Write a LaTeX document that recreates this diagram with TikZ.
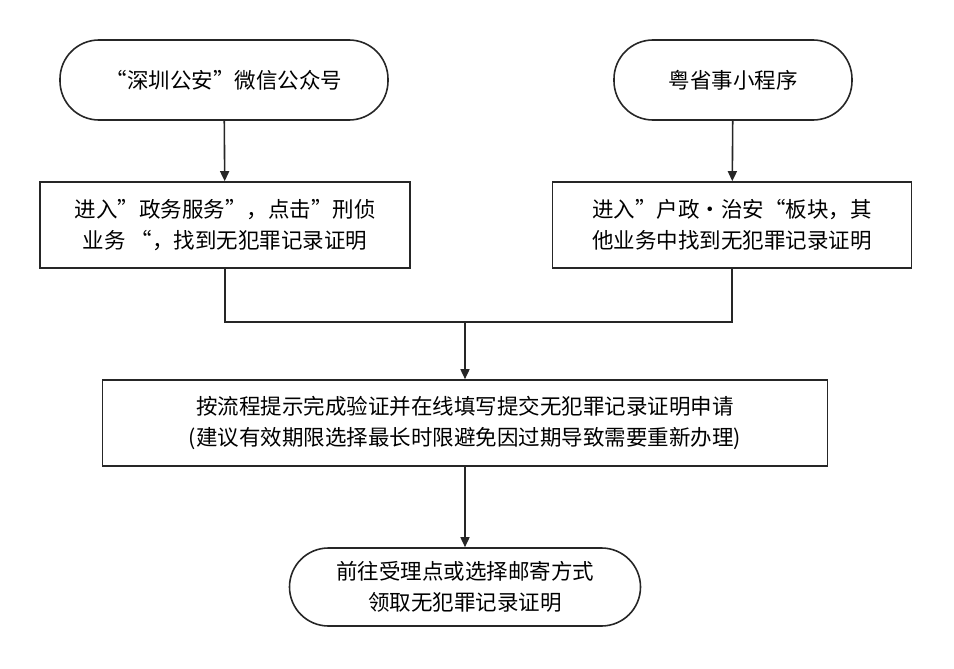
\documentclass[tikz,border=0pt]{standalone}
\usepackage{fontspec}
\setmainfont{Noto Sans CJK SC}
\usetikzlibrary{arrows.meta}
\begin{document}
\begin{tikzpicture}[x=1pt,y=-1pt,
 box/.style={draw=black!85,line width=1.6pt,minimum height=86pt,align=center,font=\fontsize{21.5}{31}\selectfont,inner sep=0pt},
 term/.style={box,rounded corners=39pt,minimum height=80pt},
 arr/.style={draw=black!85,line width=1.6pt,-{Triangle[length=10pt,width=9pt]}},
 ln/.style={draw=black!85,line width=1.6pt}]
\useasboundingbox (0,0) rectangle (954,669);
\node[term,minimum width=328pt] (a) at (224,80) {“深圳公安”微信公众号};
\node[term,minimum width=238pt] (b) at (733,80) {粤省事小程序};
\node[box,minimum width=370pt] (c) at (225,225) {进入"政务服务"，点击”刑侦\\业务 “，找到无犯罪记录证明};
\node[box,minimum width=359pt] (d) at (732,225) {进入”户政·治安“板块，其\\他业务中找到无犯罪记录证明};
\node[box,minimum width=725pt] (e) at (465,423) {按流程提示完成验证并在线填写提交无犯罪记录证明申请\\(建议有效期限选择最长时限避免因过期导致需要重新办理)};
\node[term,minimum width=351pt,minimum height=78pt] (f) at (465,587) {前往受理点或选择邮寄方式\\领取无犯罪记录证明};
\coordinate (j) at (465,322);
\draw[arr] (a) -- (c);
\draw[arr] (b) -- (d);
\draw[ln] (c.south) |- (j) -| (d.south);
\draw[arr] (j) -- (e);
\draw[arr] (e) -- (f);
\end{tikzpicture}
\end{document}
